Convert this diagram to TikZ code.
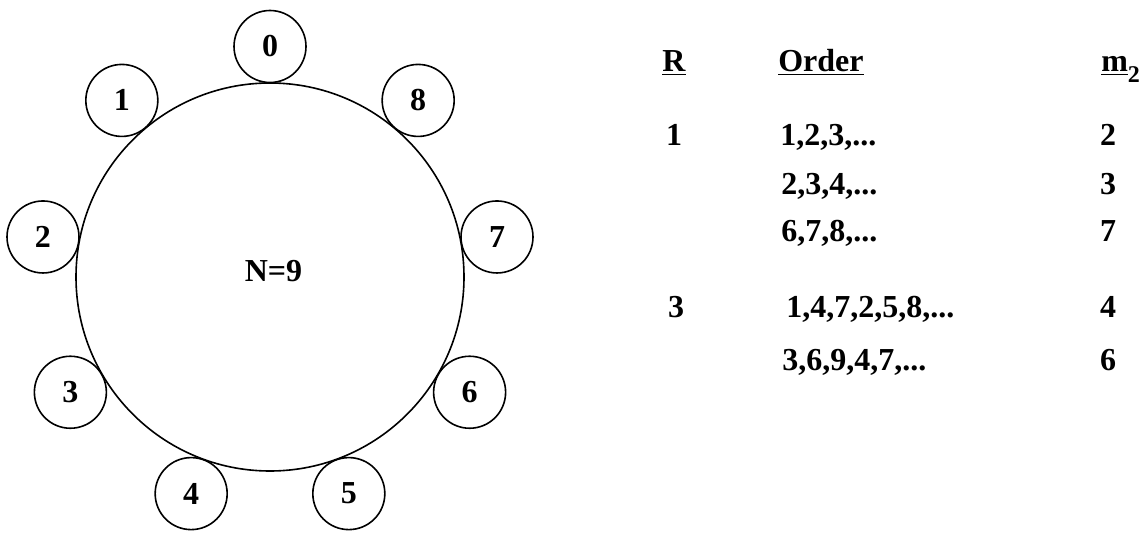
\documentclass[tikz,border=0pt]{standalone}
\usepackage{fontspec}
\setmainfont{Liberation Serif}
\begin{document}
\begin{tikzpicture}[x=0.75pt,y=-0.75pt,
  font=\fontsize{24}{28}\selectfont\bfseries,
  ring/.style={circle,draw,line width=1.2pt,inner sep=0pt,minimum size=291pt},
  seat/.style={circle,draw,line width=1.2pt,inner sep=0pt,minimum size=54pt},
  cell/.style={anchor=base,inner sep=0pt},
  cellw/.style={anchor=base west,inner sep=0pt}]
\useasboundingbox (0,0) rectangle (1140,535);

% the ring and its nine seats, 40 degrees apart
\node[ring] (ring) at (270,277) {};
\node[cell] (size) at (273.5,281) {N=9};
\foreach \i in {0,...,8}
  \node[seat] (s\i) at ([shift={(-90-40*\i:230.5)}]ring.center) {\i};

% table header
\node[cell]  (hR) at (674,72) {\underline{R}};
\node[cellw] (hO) at (778,72) {\underline{Order}};
\node[cellw] (hM) at (1101,72) {\underline{m}\raisebox{-8.2pt}{\fontsize{18}{18}\selectfont 2}};

% table rows
\node[cell]  (r1)  at (674,146) {1};
\node[cellw] (o1)  at (780,146) {1,2,3,...};
\node[cell]  (m1)  at (1108,146) {2};
\node[cellw] (o2)  at (781,195) {2,3,4,...};
\node[cell]  (m2)  at (1108,195) {3};
\node[cellw] (o3)  at (781,241) {6,7,8,...};
\node[cell]  (m3)  at (1108,241) {7};
\node[cell]  (r3)  at (676,317) {3};
\node[cellw] (o4)  at (786,317) {1,4,7,2,5,8,...};
\node[cell]  (m4)  at (1108,317) {4};
\node[cellw] (o5)  at (782,370) {3,6,9,4,7,...};
\node[cell]  (m5)  at (1108,370) {6};
\end{tikzpicture}
\end{document}
